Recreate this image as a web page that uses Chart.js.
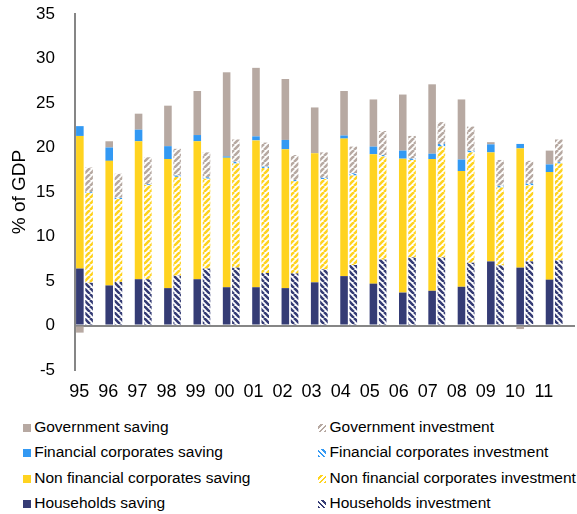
<!DOCTYPE html>
<html>
<head>
<meta charset="utf-8">
<script src="https://cdn.jsdelivr.net/npm/chart.js@4.4.1/dist/chart.umd.min.js"></script>
<style>
  body { margin: 0; background: #fff; font-family: "Liberation Sans", Arial, sans-serif; }
  #wrap { position: relative; width: 577px; height: 514px; }
  #box { position: absolute; left: 0; top: 0; width: 577px; height: 410px; }
  #legend { position: absolute; left: 0; top: 414px; width: 577px; }
  .row { position: relative; height: 25.3px; font-size: 15.5px; color: #000; }
  .item { position: absolute; top: 0; line-height: 25.3px; white-space: nowrap; }
  .sw { display: inline-block; width: 8px; height: 8px; margin-right: 3.5px; vertical-align: 0px; }
</style>
</head>
<body>
<div id="wrap">
  <div id="box"><canvas id="myChart"></canvas></div>
  <div id="legend"></div>
</div>
<script>
// Years on the x axis
const years = ["95", "96", "97", "98", "99", "00", "01", "02", "03", "04", "05", "06", "07", "08", "09", "10", "11"];

// Saving by sector (% of GDP)
const householdsSaving = [6.4, 4.5, 5.2, 4.2, 5.2, 4.3, 4.3, 4.2, 4.85, 5.55, 4.7, 3.7, 3.9, 4.35, 7.2, 6.5, 5.15];
const nonFinSaving = [14.9, 14.0, 15.5, 14.5, 15.5, 14.55, 16.5, 15.6, 14.5, 15.45, 14.55, 15.05, 14.8, 13.0, 12.25, 13.4, 12.1];
const finSaving = [1.1, 1.5, 1.3, 1.45, 0.7, 0.15, 0.45, 1.05, 0, 0.35, 0.85, 0.9, 0.6, 1.3, 0.9, 0.5, 0.85];
const govSaving = [-0.8, 0.7, 1.8, 4.55, 4.95, 9.45, 7.7, 6.85, 5.15, 5.0, 5.3, 6.3, 7.8, 6.75, 0.25, -0.4, 1.55];

// Investment by sector (% of GDP)
const householdsInvestment = [4.8, 4.9, 5.2, 5.6, 6.4, 6.5, 5.9, 5.85, 6.3, 6.8, 7.4, 7.65, 7.65, 7.05, 6.75, 7.2, 7.3];
const nonFinInvestment = [10.1, 9.3, 10.6, 11.1, 10.1, 11.7, 11.8, 10.35, 10.15, 10.05, 11.6, 10.95, 12.45, 12.4, 8.75, 8.55, 10.9];
const finInvestment = [0.1, 0.15, 0.1, 0.15, 0.15, 0.2, 0.15, 0.15, 0.15, 0.25, 0.15, 0.15, 0.3, 0.2, 0.2, 0.2, 0.15];
const govInvestment = [2.75, 2.7, 3.0, 3.0, 2.8, 2.5, 2.7, 2.8, 2.85, 3.0, 2.7, 2.55, 2.45, 2.7, 2.9, 2.55, 2.55];

// Y axis ticks
const yMin = -5;
const yMax = 35;
const yStep = 5;

const colors = {
  gov: "#b7a9a2",
  fin: "#3399f3",
  nonFin: "#ffd320",
  households: "#353c75",
};

let chart;

// build a diagonal stripe pattern ("/" or "\")
function makeStripes(ctx, color, direction) {
  const size = 6;
  const tile = document.createElement("canvas");
  tile.width = size;
  tile.height = size;
  const t = tile.getContext("2d");
  t.fillStyle = "#ffffff";
  t.fillRect(0, 0, size, size);
  t.strokeStyle = color;
  t.lineWidth = 2.6;
  t.beginPath();
  for (let k = -1; k <= 1; k++) {
    if (direction === "/") {
      t.moveTo(k * size, size);
      t.lineTo(k * size + size, 0);
    } else {
      t.moveTo(k * size, 0);
      t.lineTo(k * size + size, size);
    }
  }
  t.stroke();
  return ctx.createPattern(tile, "repeat");
}

function cssStripes(color, direction) {
  const angle = direction === "/" ? "-45deg" : "45deg";
  return `repeating-linear-gradient(${angle}, ${color} 0 2px, #fff 2px 3.6px)`;
}

function buildLegend() {
  const rows = [
    ["Government saving", colors.gov, "Government investment", cssStripes(colors.gov, "/")],
    ["Financial corporates saving", colors.fin, "Financial corporates investment", cssStripes(colors.fin, "\\")],
    ["Non financial corporates saving", colors.nonFin, "Non financial corporates investment", cssStripes(colors.nonFin, "/")],
    ["Households saving", colors.households, "Households investment", cssStripes(colors.households, "\\")],
  ];
  const legend = document.getElementById("legend");
  rows.forEach((r) => {
    const row = document.createElement("div");
    row.className = "row";
    row.innerHTML =
      `<span class="item" style="left:22.7px"><span class="sw" style="background:${r[1]}"></span>${r[0]}</span>` +
      `<span class="item" style="left:318px"><span class="sw" style="background:${r[3]}"></span>${r[2]}</span>`;
    legend.appendChild(row);
  });
}

function integerTicks(scale) {
  scale.ticks = years.map((_, i) => ({ value: i }));
}

function drawChart() {
  const canvas = document.getElementById("myChart");
  const ctx = canvas.getContext("2d");

  const bar = (label, data, color, stack) => ({
    label: label,
    data: data,
    backgroundColor: color,
    borderWidth: 0,
    stack: stack,
    xAxisID: "x",
    categoryPercentage: 0.63,
    barPercentage: 0.82,
  });

  chart = new Chart(canvas, {
    type: "bar",
    data: {
      labels: years.map((_, i) => i),
      datasets: [
        bar("Households saving", householdsSaving, colors.households, "saving"),
        bar("Non financial corporates saving", nonFinSaving, colors.nonFin, "saving"),
        bar("Financial corporates saving", finSaving, colors.fin, "saving"),
        bar("Government saving", govSaving, colors.gov, "saving"),
        bar("Households investment", householdsInvestment, makeStripes(ctx, colors.households, "\\"), "investment"),
        bar("Non financial corporates investment", nonFinInvestment, makeStripes(ctx, colors.nonFin, "/"), "investment"),
        bar("Financial corporates investment", finInvestment, makeStripes(ctx, colors.fin, "\\"), "investment"),
        bar("Government investment", govInvestment, makeStripes(ctx, colors.gov, "/"), "investment"),
      ],
    },
    options: {
      responsive: true,
      maintainAspectRatio: false,
      animation: false,
      layout: { padding: { top: 14, left: 0, right: 2, bottom: 0 } },
      scales: {
        // scale used to place the bars
        x: {
          type: "linear",
          stacked: true,
          display: false,
          offset: false,
          min: -0.323,
          max: 16.71,
          afterBuildTicks: integerTicks,
        },
        // scale used only for the year labels
        xl: {
          type: "linear",
          position: "bottom",
          offset: false,
          min: -0.148,
          max: 17.07,
          afterBuildTicks: integerTicks,
          afterFit: (scale) => { scale.height = 40; },
          grid: { display: false, drawTicks: false, offset: false },
          border: { display: false },
          ticks: {
            autoSkip: false,
            maxRotation: 0,
            padding: 11,
            color: "#000",
            font: { family: "Liberation Sans", size: 18 },
            callback: (value) => years[value],
          },
        },
        y: {
          stacked: true,
          min: yMin,
          max: yMax,
          afterFit: (scale) => { scale.width = 75; },
          ticks: {
            stepSize: yStep,
            padding: 3,
            color: "#000",
            font: { family: "Liberation Sans", size: 17 },
          },
          grid: {
            drawTicks: true,
            tickLength: 17,
            tickColor: "rgba(0,0,0,0)",
            lineWidth: 2,
            color: (c) => (c.tick && c.tick.value === 0 ? "#868686" : "rgba(0,0,0,0)"),
          },
          border: { display: true, color: "#868686", width: 2 },
          title: {
            display: true,
            text: "% of GDP",
            color: "#000",
            padding: { top: 8, bottom: 0 },
            font: { family: "Liberation Sans", size: 19 },
          },
        },
      },
      plugins: {
        legend: { display: false },
        tooltip: { enabled: false },
      },
    },
  });
}

buildLegend();
drawChart();
</script>
</body>
</html>
